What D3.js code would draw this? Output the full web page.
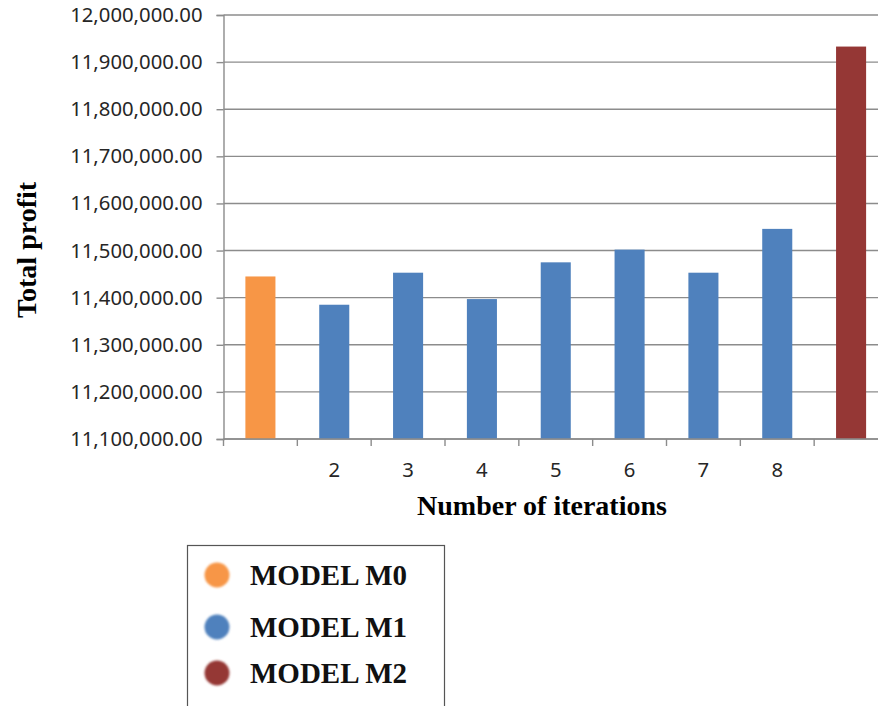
<!DOCTYPE html>
<html><head><meta charset="utf-8">
<script src="https://cdn.jsdelivr.net/npm/d3@7"></script>
<style>body{margin:0;background:#fff;}svg{display:block;}</style>
</head><body>
<div id="chart"></div>
<script>
const categories = ["1","2","3","4","5","6","7","8","9"];
const tickLabels = ["","2","3","4","5","6","7","8",""];
const values = [11445000,11385000,11453000,11397000,11475000,11502000,11453000,11546000,11933000];
const models = ["M0","M1","M1","M1","M1","M1","M1","M1","M2"];
const legendLabels = ["MODEL M0","MODEL M1","MODEL M2"];
const legendKeys = ["M0","M1","M2"];
const yTicks = [11100000,11200000,11300000,11400000,11500000,11600000,11700000,11800000,11900000,12000000];

const W = 878, H = 706;
const colors = {M0:"#F79646", M1:"#4F81BD", M2:"#953735"};

const svg = d3.select("#chart").append("svg").attr("width",W).attr("height",H);
const defs = svg.append("defs");
defs.append("filter").attr("id","soft").append("feGaussianBlur").attr("stdDeviation",0.9);

const x = d3.scaleBand().domain(categories).range([223.5, 888]).paddingInner(0.593).paddingOuter(0.2965);
const y = d3.scaleLinear().domain([11100000, 12000000]).range([439, 15]);

// gridlines
svg.append("g").selectAll("line").data(yTicks).join("line")
  .attr("x1",223.5).attr("x2",888)
  .attr("y1",d=>y(d)).attr("y2",d=>y(d))
  .attr("stroke","#8c8c8c").attr("stroke-width",1.4);

// bars
svg.append("g").selectAll("rect").data(values).join("rect")
  .attr("x",(d,i)=>x(categories[i]))
  .attr("width",x.bandwidth())
  .attr("y",d=>y(d))
  .attr("height",d=>y(11100000)-y(d))
  .attr("fill",(d,i)=>colors[models[i]]);

// y axis
const yAxis = svg.append("g").attr("transform","translate(223.5,0)")
  .call(d3.axisLeft(y).tickValues(yTicks).tickSize(7).tickPadding(14).tickFormat(d3.format(",.2f")));
yAxis.select(".domain").attr("stroke","#8c8c8c").attr("stroke-width",1.4);
yAxis.selectAll(".tick line").attr("stroke","#8c8c8c").attr("stroke-width",1.4);
yAxis.selectAll(".tick text").attr("font-family","'Noto Sans', sans-serif").attr("font-size","20.3px").attr("fill","#262626");

// x axis line
const step = x.step();
const gap = (step - x.bandwidth())/2;
svg.append("line").attr("x1",223.5).attr("x2",888).attr("y1",y(11100000)).attr("y2",y(11100000))
  .attr("stroke","#8c8c8c").attr("stroke-width",1.4);
// x ticks at band boundaries
svg.append("g").selectAll("line").data(categories).join("line")
  .attr("x1",d=>x(d)-gap).attr("x2",d=>x(d)-gap)
  .attr("y1",y(11100000)).attr("y2",y(11100000)+7)
  .attr("stroke","#8c8c8c").attr("stroke-width",1.4);
// x tick labels
svg.append("g").selectAll("text").data(categories).join("text")
  .attr("x",d=>x(d)+x.bandwidth()/2)
  .attr("y",477)
  .attr("text-anchor","middle")
  .attr("font-family","'Noto Sans', sans-serif").attr("font-size","20.3px").attr("fill","#262626")
  .text((d,i)=>tickLabels[i]);

// axis titles
svg.append("text").attr("x",542).attr("y",515).attr("text-anchor","middle")
  .attr("font-family","'Liberation Serif', 'Times New Roman', serif").attr("font-weight","bold").attr("font-size","28px")
  .text("Number of iterations");
svg.append("text").attr("transform","translate(36,250) rotate(-90)").attr("text-anchor","middle")
  .attr("font-family","'Liberation Serif', 'Times New Roman', serif").attr("font-weight","bold").attr("font-size","28px")
  .text("Total profit");

// legend
const lg = svg.append("g");
lg.append("rect").attr("x",187.5).attr("y",545.5).attr("width",257).attr("height",200)
  .attr("fill","#fff").attr("stroke","#555").attr("stroke-width",1.2);
const ly = [575, 627, 673];
lg.selectAll("circle").data(legendKeys).join("circle")
  .attr("cx",217).attr("cy",(d,i)=>ly[i]).attr("r",12.5)
  .attr("fill",d=>colors[d]).attr("filter","url(#soft)");
lg.selectAll("text").data(legendLabels).join("text")
  .attr("x",250).attr("y",(d,i)=>ly[i]+10)
  .attr("font-family","'Liberation Serif', 'Times New Roman', serif").attr("font-weight","bold").attr("font-size","29px")
  .attr("fill","#111")
  .text(d=>d);
</script>
</body></html>
